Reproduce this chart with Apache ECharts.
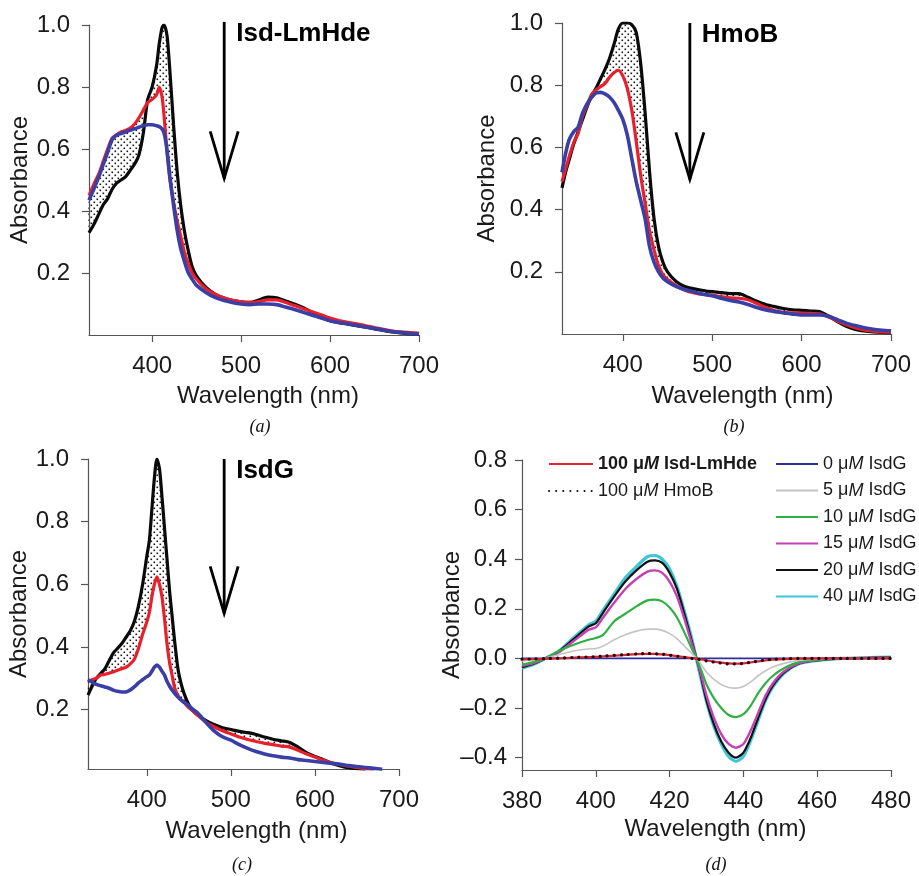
<!DOCTYPE html>
<html><head><meta charset="utf-8">
<script src="https://cdn.jsdelivr.net/npm/echarts@6/dist/echarts.min.js"></script>
<style>html,body{margin:0;padding:0;background:#fff}#c{width:919px;height:876px}</style>
</head><body><div id="c"></div>
<script>
// ---------- Panel (a) Isd-LmHde ----------
const lamA = [329,335,340,345,350,355,360,365,370,375,380,385,390,395,400,405,408,411,413,415,417,420,424,428,432,436,440,445,450,460,470,480,490,500,510,520,530,540,550,560,570,580,590,600,610,620,630,640,650,660,670,680,690,700];
const blackA = [0.33,0.36,0.39,0.42,0.44,0.47,0.49,0.50,0.51,0.53,0.55,0.58,0.65,0.76,0.80,0.87,0.94,0.99,1.00,0.99,0.96,0.85,0.68,0.53,0.42,0.34,0.28,0.22,0.19,0.155,0.133,0.12,0.112,0.107,0.105,0.113,0.122,0.12,0.11,0.10,0.088,0.073,0.058,0.046,0.04,0.035,0.03,0.025,0.02,0.015,0.01,0.007,0.004,0.002];
const redA = [0.45,0.49,0.52,0.56,0.60,0.635,0.645,0.655,0.66,0.667,0.68,0.70,0.725,0.75,0.76,0.775,0.80,0.77,0.72,0.65,0.58,0.50,0.43,0.37,0.32,0.27,0.235,0.20,0.18,0.15,0.133,0.12,0.112,0.107,0.105,0.108,0.113,0.113,0.105,0.095,0.085,0.075,0.065,0.055,0.047,0.041,0.036,0.03,0.024,0.018,0.013,0.01,0.008,0.006];
const blueA = [0.435,0.475,0.51,0.55,0.59,0.63,0.645,0.65,0.655,0.66,0.665,0.67,0.675,0.678,0.678,0.675,0.672,0.665,0.655,0.63,0.59,0.51,0.42,0.34,0.28,0.24,0.205,0.18,0.16,0.138,0.122,0.112,0.105,0.10,0.098,0.10,0.10,0.098,0.09,0.082,0.073,0.064,0.055,0.046,0.04,0.036,0.031,0.026,0.021,0.016,0.011,0.008,0.005,0.003];

// ---------- Panel (b) HmoB ----------
const lamB = [332,336,340,345,350,355,360,365,370,375,380,385,390,395,400,405,410,415,420,425,430,435,440,445,450,460,470,480,490,500,510,520,530,540,550,560,570,580,590,600,610,620,630,640,650,660,670,680,690,700];
const blackB = [0.47,0.52,0.56,0.61,0.65,0.69,0.73,0.765,0.79,0.82,0.85,0.885,0.93,0.98,1.0,1.0,0.995,0.97,0.87,0.71,0.52,0.37,0.28,0.23,0.20,0.168,0.152,0.145,0.14,0.136,0.133,0.13,0.13,0.118,0.105,0.095,0.088,0.082,0.078,0.076,0.074,0.072,0.058,0.04,0.025,0.015,0.01,0.007,0.005,0.004];
const redB = [0.49,0.53,0.57,0.615,0.645,0.70,0.735,0.77,0.785,0.795,0.805,0.825,0.84,0.848,0.83,0.79,0.72,0.62,0.51,0.42,0.33,0.27,0.22,0.19,0.175,0.155,0.14,0.132,0.127,0.125,0.12,0.116,0.115,0.11,0.098,0.085,0.075,0.07,0.068,0.067,0.066,0.065,0.055,0.042,0.03,0.02,0.013,0.009,0.007,0.006];
const blueB = [0.52,0.58,0.625,0.65,0.665,0.71,0.74,0.76,0.775,0.777,0.772,0.762,0.745,0.72,0.69,0.64,0.565,0.49,0.43,0.37,0.28,0.23,0.20,0.18,0.168,0.152,0.142,0.135,0.128,0.123,0.115,0.108,0.103,0.095,0.085,0.077,0.072,0.068,0.064,0.061,0.061,0.061,0.057,0.046,0.035,0.027,0.02,0.015,0.012,0.01];

// ---------- Panel (c) IsdG ----------
const lamC = [330,335,340,345,350,355,360,365,370,375,380,385,390,395,400,403,406,409,412,415,418,421,424,427,430,433,437,441,445,450,455,460,470,480,490,500,510,520,530,540,550,560,570,580,590,600,610,620,630,640,650,660,670,680];
const blackC = [0.246,0.275,0.30,0.315,0.33,0.355,0.38,0.395,0.41,0.43,0.45,0.48,0.53,0.60,0.69,0.74,0.84,0.94,1.0,0.97,0.88,0.78,0.68,0.58,0.50,0.42,0.33,0.28,0.246,0.215,0.195,0.183,0.165,0.152,0.142,0.136,0.13,0.126,0.12,0.112,0.105,0.10,0.095,0.08,0.062,0.05,0.04,0.028,0.02,0.014,0.011,0.009,null,null];
const redC = [0.29,0.295,0.30,0.31,0.312,0.316,0.32,0.325,0.33,0.335,0.345,0.36,0.395,0.44,0.48,0.51,0.56,0.60,0.624,0.60,0.56,0.49,0.41,0.35,0.31,0.27,0.245,0.23,0.22,0.205,0.195,0.183,0.16,0.145,0.132,0.122,0.112,0.104,0.098,0.092,0.088,0.083,0.08,0.07,0.058,0.048,0.038,0.03,0.024,0.019,0.015,0.011,0.009,null];
const blueC = [0.295,0.287,0.28,0.276,0.272,0.268,0.262,0.258,0.256,0.256,0.262,0.272,0.285,0.295,0.305,0.31,0.322,0.335,0.342,0.335,0.322,0.31,0.29,0.275,0.262,0.252,0.24,0.23,0.222,0.212,0.2,0.19,0.16,0.132,0.113,0.102,0.088,0.076,0.066,0.058,0.052,0.048,0.045,0.04,0.037,0.034,0.031,0.028,0.025,0.021,0.018,0.015,0.012,0.009];

// ---------- Panel (d) difference spectra ----------
const lamD = [380,383,386,390,394,398,400,402,405,408,411,414,416,418,420,422,424,426,428,430,432,434,436,438,440,442,444,446,448,451,455,460,467,474,480];
const lmhdeD = [-0.004,-0.003,-0.002,0,0.003,0.005,0.006,0.008,0.011,0.014,0.017,0.018,0.018,0.016,0.013,0.009,0.005,0.001,-0.003,-0.008,-0.013,-0.017,-0.02,-0.021,-0.02,-0.016,-0.012,-0.008,-0.005,-0.003,-0.001,0,0,0,0];
const hmobD = [-0.003,-0.002,-0.001,0.001,0.004,0.006,0.007,0.009,0.012,0.015,0.018,0.02,0.019,0.017,0.013,0.009,0.004,0,-0.004,-0.01,-0.015,-0.019,-0.022,-0.022,-0.02,-0.016,-0.011,-0.007,-0.004,-0.002,0,0,0,0,0];
const isdG0 = [0,0,0,0,0,0,0,0,0,0,0,0,0,0,0,0,0,0,0,0,0,0,0,0,0,0,0,0,0,0,0,0,0,0,0];
const isdG5 = [-0.01,-0.005,0,0.015,0.03,0.038,0.04,0.05,0.075,0.095,0.11,0.118,0.118,0.113,0.10,0.08,0.05,0.02,-0.012,-0.055,-0.085,-0.105,-0.117,-0.12,-0.113,-0.095,-0.07,-0.05,-0.035,-0.02,-0.008,-0.003,0,0,0];
const isdG10 = [-0.025,-0.015,-0.002,0.03,0.055,0.075,0.082,0.095,0.15,0.18,0.21,0.234,0.237,0.23,0.205,0.165,0.105,0.04,-0.025,-0.105,-0.16,-0.2,-0.228,-0.237,-0.225,-0.19,-0.14,-0.10,-0.07,-0.04,-0.015,-0.006,0,0.001,0.002];
const isdG15 = [-0.03,-0.02,-0.003,0.025,0.07,0.115,0.125,0.165,0.225,0.28,0.32,0.35,0.355,0.345,0.31,0.25,0.16,0.06,-0.035,-0.15,-0.24,-0.305,-0.345,-0.36,-0.345,-0.29,-0.22,-0.15,-0.10,-0.053,-0.02,-0.007,0,0.002,0.003];
const isdG20 = [-0.035,-0.022,-0.003,0.028,0.078,0.128,0.142,0.185,0.25,0.31,0.355,0.39,0.395,0.385,0.345,0.28,0.18,0.07,-0.04,-0.17,-0.265,-0.335,-0.38,-0.40,-0.38,-0.32,-0.24,-0.165,-0.11,-0.058,-0.021,-0.008,0,0.002,0.004];
const isdG40 = [-0.04,-0.025,-0.003,0.03,0.083,0.135,0.15,0.195,0.26,0.325,0.37,0.41,0.415,0.40,0.36,0.29,0.19,0.08,-0.05,-0.175,-0.274,-0.345,-0.395,-0.415,-0.395,-0.33,-0.25,-0.17,-0.115,-0.06,-0.022,-0.008,0,0.003,0.005];

// ---------- Tick labels ----------
const wlTicks = [400,500,600,700];
const absTicks = [0.2,0.4,0.6,0.8,1.0];
const wlTicksD = [380,400,420,440,460,480];
const absTicksD = [-0.4,-0.2,0,0.2,0.4,0.6,0.8];

// ---------- Annotations ----------
const panelTitles = ['Isd-LmHde','HmoB','IsdG'];
const arrowX = [481,475,492];
const arrowTop = [1.01,1.0,1.0];
const arrowTip = [0.505,0.497,0.507];
const captions = ['(a)','(b)','(c)','(d)'];

const FONT = '"Liberation Sans", Arial, Helvetica, sans-serif';
const TXT = '#1a1a1a';
const AX = '#555';

function xAxis(g, min, max, ticks, gap, shift){
  return {type:'value', gridIndex:g, min:min, max:max,
    name:'Wavelength (nm)', nameLocation:'middle', nameGap:gap, nameMoveOverlap:false,
    nameTextStyle:{fontFamily:FONT,fontSize:24,color:TXT,padding:[0,0,0,shift]},
    axisLine:{show:true,onZero:false,lineStyle:{color:AX,width:1.2}},
    axisTick:{show:true,length:7,customValues:ticks,lineStyle:{color:AX,width:1.2}},
    axisLabel:{customValues:ticks,fontFamily:FONT,fontSize:24,color:TXT,margin:19},
    splitLine:{show:false}};
}
function yAxis(g, min, max, ticks, gap, margin){
  return {type:'value', gridIndex:g, min:min, max:max,
    name:'Absorbance', nameLocation:'middle', nameGap:gap, nameMoveOverlap:false,
    nameTextStyle:{fontFamily:FONT,fontSize:24,color:TXT},
    axisLine:{show:true,onZero:false,lineStyle:{color:AX,width:1.2}},
    axisTick:{show:true,length:7,customValues:ticks,lineStyle:{color:AX,width:1.2}},
    axisLabel:{customValues:ticks,fontFamily:FONT,fontSize:24,color:TXT,margin:margin,
      formatter:function(v){return v<-1e-9 ? '\u2013'+(-v).toFixed(1) : Math.abs(v).toFixed(1);}},
    splitLine:{show:false}};
}

// stipple pattern
const pc = document.createElement('canvas');
pc.width = 6; pc.height = 6;
const pctx = pc.getContext('2d');
pctx.fillStyle = '#1a1a1a';
pctx.fillRect(0.5,0.5,1.6,1.6);
pctx.fillRect(3.5,3.5,1.6,1.6);
const stipple = {image: pc, repeat: 'repeat'};

function band(g, lam, a, b){
  return {type:'custom', xAxisIndex:g, yAxisIndex:g, silent:true, z:1,
    data:[[lam[0], 0]],
    renderItem:function(params, api){
      const up=[], lo=[];
      for (let k=0;k<lam.length;k++){
        if (a[k]==null || b[k]==null) continue;
        up.push(api.coord([lam[k], Math.max(a[k],b[k])]));
        lo.push(api.coord([lam[k], Math.min(a[k],b[k])]));
      }
      return {type:'polygon', shape:{points: up.concat(lo.reverse()), smooth:0.2}, style:{fill: stipple, stroke:null}};
    }};
}
function line(g, lam, vals, color, width, z, name, extra){
  const s = {type:'line', xAxisIndex:g, yAxisIndex:g, name:name,
    data: lam.map((x,k)=>[x, vals[k]]),
    showSymbol:false, symbol:'none', smooth:0.25, z:z, silent:true,
    lineStyle:{color:color,width:width}, itemStyle:{color:'rgba(0,0,0,0)',borderWidth:0},
    emphasis:{disabled:true}};
  if (extra) Object.assign(s.lineStyle, extra);
  return s;
}

const RED = '#e8202c', BLUE = '#3a3fa6', BLK = '#0a0a0a';

const nameLm = '100 \u03bcM Isd-LmHde';
const nameHm = '100 \u03bcM HmoB';
const namesG = ['0 \u03bcM IsdG','5 \u03bcM IsdG','10 \u03bcM IsdG','15 \u03bcM IsdG','20 \u03bcM IsdG','40 \u03bcM IsdG'];

const LF = 18;
const rich = {
  n:{fontFamily:FONT,fontSize:LF,color:TXT},
  i:{fontFamily:FONT,fontSize:LF,color:TXT,fontStyle:'italic'},
  b:{fontFamily:FONT,fontSize:LF,color:TXT,fontWeight:'bold'},
  bi:{fontFamily:FONT,fontSize:LF,color:TXT,fontWeight:'bold',fontStyle:'italic'}
};
function fmtLegend(name){
  const parts = name.split('\u03bcM');
  const bold = name.indexOf('LmHde')>=0;
  const a = bold?'b':'n', m = bold?'bi':'i';
  return '{'+a+'|'+parts[0]+'\u03bc}{'+m+'|M}{'+a+'|'+parts[1]+'}';
}

const option = {
  backgroundColor:'#fff',
  animation:false,
  grid:[
    {left:89, top:25, width:330, height:310},
    {left:562, top:23, width:329, height:311},
    {left:88, top:459, width:311, height:310},
    {left:522, top:460, width:369, height:310}
  ],
  xAxis:[
    xAxis(0,329,700,wlTicks,49,28),
    xAxis(1,332,700,wlTicks,50,32),
    xAxis(2,330,700,wlTicks,50,26),
    xAxis(3,380,480,wlTicksD,47,18)
  ],
  yAxis:[
    yAxis(0,0,1.0,absTicks,57,19),
    yAxis(1,0,1.0,absTicks,63,19),
    yAxis(2,0.01,1.0,absTicks,57,19),
    yAxis(3,-0.45,0.8,absTicksD,58,15)
  ],
  legend:[
    {data:[nameLm,nameHm], orient:'vertical', left:543, top:450, itemWidth:44, itemHeight:14, itemGap:9,
     selectedMode:false, formatter:fmtLegend, itemStyle:{opacity:0},
     textStyle:{fontFamily:FONT,fontSize:LF,color:TXT,padding:[0,0,0,0],rich:rich}},
    {data:namesG, orient:'vertical', left:770, top:450, itemWidth:42, itemHeight:14, itemGap:8.5,
     selectedMode:false, formatter:fmtLegend, itemStyle:{opacity:0},
     textStyle:{fontFamily:FONT,fontSize:LF,color:TXT,padding:[0,0,0,0],rich:rich}}
  ],
  series:[
    band(0,lamA,blackA,redA),
    line(0,lamA,blackA,BLK,3.2,3),
    line(0,lamA,redA,RED,3.2,4),
    line(0,lamA,blueA,BLUE,3.6,5),
    band(1,lamB,blackB,redB),
    line(1,lamB,blackB,BLK,3.2,3),
    line(1,lamB,redB,RED,3.2,4),
    line(1,lamB,blueB,BLUE,3.6,5),
    band(2,lamC,blackC,redC),
    line(2,lamC,blackC,BLK,3.2,3),
    line(2,lamC,redC,RED,3.2,4),
    line(2,lamC,blueC,BLUE,3.6,5),
    line(3,lamD,isdG40,'#3ec6d6',3.2,3,namesG[5]),
    line(3,lamD,isdG20,'#111111',2.2,4,namesG[4]),
    line(3,lamD,isdG15,'#c43fb4',2.4,5,namesG[3]),
    line(3,lamD,isdG10,'#2fb043',2.2,6,namesG[2]),
    line(3,lamD,isdG5,'#c4c4c4',1.6,7,namesG[1]),
    line(3,lamD,isdG0,'#2b2fa0',1.8,8,namesG[0]),
    line(3,lamD,lmhdeD,'#e8202c',2.2,9,nameLm),
    line(3,lamD,hmobD,'#111111',3.2,10,nameHm,{type:[0.1,7],cap:'round'})
  ]
};

const chart = echarts.init(document.getElementById('c'), null, {renderer:'canvas'});
chart.setOption(option);

const graphics = [];
for (let i=0;i<3;i++){
  const p1 = chart.convertToPixel({gridIndex:i}, [arrowX[i], arrowTop[i]]);
  const p2 = chart.convertToPixel({gridIndex:i}, [arrowX[i], arrowTip[i]]);
  graphics.push({type:'line', shape:{x1:p1[0],y1:p1[1],x2:p2[0],y2:p2[1]}, style:{stroke:'#000',lineWidth:2.8}, silent:true});
  graphics.push({type:'polyline', shape:{points:[[p2[0]-14,p2[1]-47],[p2[0],p2[1]],[p2[0]+14,p2[1]-47]]}, style:{stroke:'#000',lineWidth:2.8,fill:null}, silent:true});
  graphics.push({type:'text', x:p1[0]+12, y:p1[1]+12, silent:true,
    style:{text:panelTitles[i], fontFamily:FONT, fontSize:26, fontWeight:'bold', fill:'#000', verticalAlign:'middle', align:'left'}});
}
// panel captions
const capPos = [[0,260,427],[1,734,427],[2,242,865],[3,716,865]];
capPos.forEach(function(c){
  graphics.push({type:'text', x:c[1], y:c[2], silent:true,
    style:{text:captions[c[0]], fontFamily:'"Liberation Serif","Times New Roman",serif', fontSize:18, fontStyle:'italic', fill:'#111', align:'center', verticalAlign:'middle'}});
});
chart.setOption({graphic:graphics});
</script>
</body></html>
